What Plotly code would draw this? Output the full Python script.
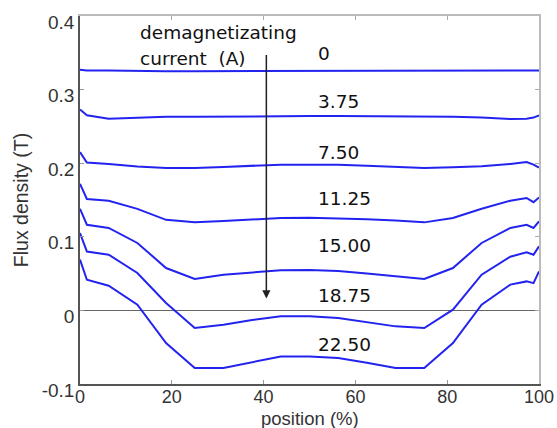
import plotly.graph_objects as go

# Position along the magnet (%)
position = [0, 1.5, 6.25, 12.5, 18.75, 25, 31.25, 37.5, 43.75, 50,
            56.25, 62.5, 68.75, 75, 81.25, 87.5, 93.75, 97.3, 98.8, 100]

# Flux density (T) for each demagnetizing current
flux_0 = [0.327, 0.326, 0.326, 0.325, 0.325, 0.325, 0.325, 0.325, 0.325, 0.325,
          0.325, 0.325, 0.325, 0.325, 0.325, 0.325, 0.325, 0.325, 0.325, 0.326]
flux_3_75 = [0.273, 0.265, 0.2605, 0.262, 0.263, 0.263, 0.2635, 0.264, 0.264, 0.264,
             0.264, 0.264, 0.2635, 0.263, 0.263, 0.262, 0.260, 0.2605, 0.262, 0.265]
flux_7_50 = [0.215, 0.201, 0.199, 0.1955, 0.1935, 0.1935, 0.195, 0.197, 0.198, 0.198,
             0.198, 0.1965, 0.195, 0.1935, 0.1945, 0.196, 0.199, 0.2016, 0.198, 0.194]
flux_11_25 = [0.172, 0.1514, 0.149, 0.138, 0.123, 0.1196, 0.1215, 0.124, 0.1255, 0.126,
              0.1255, 0.124, 0.122, 0.1196, 0.1255, 0.138, 0.149, 0.1527, 0.147, 0.1535]
flux_15_00 = [0.138, 0.1164, 0.112, 0.0916, 0.0576, 0.0427, 0.0485, 0.052, 0.0545, 0.055,
              0.0535, 0.050, 0.046, 0.0427, 0.0576, 0.0916, 0.112, 0.1164, 0.112, 0.121]
flux_18_75 = [0.105, 0.080, 0.0757, 0.0508, 0.010, -0.024, -0.0194, -0.013, -0.0081, -0.0081,
              -0.0103, -0.016, -0.0217, -0.024, 0.001, 0.0485, 0.073, 0.079, 0.0757, 0.087]
flux_22_50 = [0.069, 0.0417, 0.0336, 0.0077, -0.0443, -0.0783, -0.0783, -0.070, -0.0625, -0.0625,
              -0.0647, -0.071, -0.0783, -0.0783, -0.0443, 0.0077, 0.035, 0.0394, 0.037, 0.053]

series = [flux_0, flux_3_75, flux_7_50, flux_11_25, flux_15_00, flux_18_75, flux_22_50]
current_labels = ["0", "3.75", "7.50", "11.25", "15.00", "18.75", "22.50"]
label_y = [0.349, 0.284, 0.215, 0.152, 0.088, 0.020, -0.047]

x_ticks = [0, 20, 40, 60, 80, 100]
y_ticks = [-0.1, 0, 0.1, 0.2, 0.3, 0.4]
y_tick_text = ["-0.1", "0", "0.1", "0.2", "0.3", "0.4"]

LINE_BLUE = "rgb(35,35,240)"
TICK_FONT = dict(family="Liberation Sans, Arial, sans-serif", size=19, color="#333")
XTICK_FONT = dict(family="Liberation Sans, Arial, sans-serif", size=18, color="#333")
TITLE_FONT = dict(family="Liberation Sans, Arial, sans-serif", size=19.5, color="#333")
XTITLE_FONT = dict(family="Liberation Sans, Arial, sans-serif", size=18.5, color="#333")
NOTE_FONT = dict(family="DejaVu Sans, sans-serif", size=18.5, color="#111")

fig = go.Figure()
for vals in series:
    fig.add_trace(go.Scatter(x=position, y=vals, mode="lines",
                             line=dict(color=LINE_BLUE, width=2),
                             showlegend=False, hoverinfo="skip"))

# current labels above each curve
for txt, yv in zip(current_labels, label_y):
    fig.add_annotation(x=51.4, y=yv, text=txt, showarrow=False,
                       xanchor="left", yanchor="middle", font=NOTE_FONT)

fig.add_annotation(x=12.6, y=0.378, text="demagnetizating", showarrow=False,
                   xanchor="left", yanchor="middle", font=NOTE_FONT)
fig.add_annotation(x=12.6, y=0.342, text="current&nbsp;&nbsp;(A)", showarrow=False,
                   xanchor="left", yanchor="middle", font=NOTE_FONT)

# arrow indicating increasing demagnetizing current
fig.add_annotation(x=40.6, y=0.016, ax=40.6, ay=0.349, xref="x", yref="y",
                   axref="x", ayref="y", text="", showarrow=True,
                   arrowhead=2, arrowsize=1.1, arrowwidth=1.5, arrowcolor="#222")

# x-axis title, set just below the tick labels
fig.add_annotation(x=0.5, xref="paper", y=-0.094, yref="paper", text="position (%)",
                   showarrow=False, xanchor="center", yanchor="middle", font=XTITLE_FONT)

fig.update_layout(
    width=557, height=428,
    margin=dict(l=80, r=18, t=16, b=44),
    paper_bgcolor="white", plot_bgcolor="white",
    xaxis=dict(range=[0, 100], tickvals=x_ticks, showgrid=False, zeroline=False,
               showline=True, linecolor="#555", linewidth=1.5,
               ticks="inside", ticklen=4, tickcolor="#999",
               tickfont=XTICK_FONT, ticklabelstandoff=-4, automargin=False),
    yaxis=dict(range=[-0.1, 0.4], tickvals=y_ticks, ticktext=y_tick_text,
               showgrid=False, zeroline=True, zerolinecolor="#666", zerolinewidth=1.2,
               showline=True, linecolor="#555", linewidth=1.5,
               ticks="inside", ticklen=4, tickcolor="#999",
               tickfont=TICK_FONT, ticklabelshift=6, automargin=False,
               title=dict(text="Flux density (T)", font=TITLE_FONT, standoff=8)),
    xaxis2=dict(range=[0, 100], tickvals=x_ticks, overlaying="x", side="top",
                showgrid=False, zeroline=False, showline=True, linecolor="#bbb", linewidth=1.5,
                ticks="inside", ticklen=4, tickcolor="#aaa", showticklabels=False,
                automargin=False),
    yaxis2=dict(range=[-0.1, 0.4], tickvals=y_ticks, overlaying="y", side="right",
                showgrid=False, zeroline=False, showline=True, linecolor="#bbb", linewidth=1.5,
                ticks="inside", ticklen=4, tickcolor="#aaa", showticklabels=False,
                automargin=False),
)

# invisible trace to activate the mirrored frame axes
fig.add_trace(go.Scatter(x=[0], y=[0], xaxis="x2", yaxis="y2", mode="markers",
                         marker=dict(opacity=0), showlegend=False, hoverinfo="skip"))

fig.write_html("out.html")
